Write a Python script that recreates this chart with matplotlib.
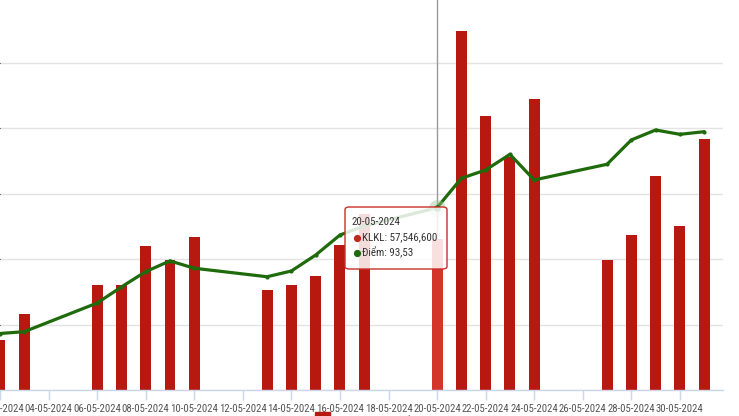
import matplotlib
matplotlib.use("Agg")
import matplotlib.pyplot as plt
from matplotlib import font_manager as fm
from matplotlib.patches import FancyBboxPatch, Rectangle
from matplotlib.lines import Line2D
from matplotlib.textpath import TextPath
import numpy as np

# ---------------- data ----------------
days = [2, 3, 6, 7, 8, 9, 10, 13, 14, 15, 16, 17, 20, 21, 22, 23, 24, 27, 28, 29, 30, 31]
klkl = [19.11e6, 29.05e6, 40.14e6, 40.30e6, 55.05e6, 49.69e6, 58.49e6, 38.23e6, 40.14e6,
        43.58e6, 55.43e6, 67.28e6, 57.5466e6, 137.23e6, 104.74e6, 89.07e6, 111.24e6,
        49.69e6, 59.25e6, 81.80e6, 62.69e6, 95.95e6]
diem = [83.91, 84.05, 86.24, 87.47, 88.64, 89.46, 88.90, 88.25, 88.69, 89.91, 91.44, 92.13,
        93.53, 95.78, 96.41, 97.61, 95.65, 96.85, 98.71, 99.47, 99.14, 99.34]
tick_days = [2, 4, 6, 8, 10, 12, 14, 16, 18, 20, 22, 24, 26, 28, 30]
tick_labels = ["%02d-05-2024" % d for d in tick_days]
hover_day = 20
tooltip_date = "20-05-2024"
tooltip_klkl = "KLKL: 57,546,600"
tooltip_diem = "Điểm: 93,53"
series_names = ["KLKL", "Điểm"]

# ---------------- font choice ----------------
names = {f.name for f in fm.fontManager.ttflist}
if 'Liberation Sans Narrow' in names:
    FP = fm.FontProperties(family='Liberation Sans Narrow')
elif 'Roboto Condensed' in names:
    FP = fm.FontProperties(family='Roboto Condensed')
elif 'DejaVu Sans Condensed' in names:
    FP = fm.FontProperties(family='DejaVu Sans Condensed')
else:
    FP = fm.FontProperties(family='Liberation Sans')

def size_for(text, target_px):
    tp = TextPath((0, 0), text, size=10, prop=FP)
    w_px = tp.get_extents().width * 100 / 72
    return 10 * target_px / w_px

TICK_FS = size_for("04-05-2024", 47)
TIP_FS = size_for("KLKL: 57,546,600", 74)

# ---------------- style ----------------
W, H = 739, 416
BAR = '#b71910'
BAR_HI = '#d4352a'
LINE = '#1f6b0c'
GRID = '#e3e3e3'
AXIS = '#ccd6eb'
TXT = '#555555'

fig = plt.figure(figsize=(W / 100, H / 100), dpi=100)

def fx(x):
    return x / W

def fy(y):
    return 1 - y / H

ax = fig.add_axes([fx(0), fy(390), fx(723), 390 / H])
ax.set_xlim(2.113, 31.775)
ax.set_ylim(0, 149.1e6)

ax.set_yticks([0, 25e6, 50e6, 75e6, 100e6, 125e6])
ax.yaxis.grid(True, color=GRID, linewidth=1)
ax.tick_params(axis='y', left=False, labelleft=False)
for s in ['left', 'right', 'top']:
    ax.spines[s].set_visible(False)
ax.spines['bottom'].set_color(AXIS)
ax.spines['bottom'].set_linewidth(1)
ax.set_axisbelow(True)

ax.set_xticks(tick_days)
ax.set_xticklabels(tick_labels, fontproperties=FP, fontsize=TICK_FS, color=TXT)
ax.tick_params(axis='x', length=7, width=1, color=AXIS, pad=3)

ax.axvline(hover_day, color='#9a9a9a', linewidth=1, zorder=1)

colors = [BAR_HI if d == hover_day else BAR for d in days]
ax.bar(days, klkl, width=0.45, color=colors, zorder=2)

ax2 = ax.twinx()
ax2.set_ylim(79.59, 109.41)
for s in ['left', 'right', 'top', 'bottom']:
    ax2.spines[s].set_visible(False)
rticks = [79.59 + 5 * k for k in range(6)]
ax2.set_yticks(rticks)
ax2.set_yticklabels(["%d" % round(v) for v in rticks], color='#f0a030',
                    fontproperties=FP, fontsize=TICK_FS)
ax2.tick_params(axis='y', length=0, pad=12.5)
ax2.plot(days, diem, color=LINE, linewidth=2.3, solid_joinstyle='round',
         solid_capstyle='round', zorder=3)
ax2.scatter(days, diem, s=4, color=LINE, zorder=4)
hi = days.index(hover_day)
ax2.scatter([days[hi]], [diem[hi]], s=150, color='#9fc79a', alpha=0.45, zorder=3, linewidths=0)
ax2.scatter([days[hi]], [diem[hi]], s=14, color=LINE, zorder=5)

# tooltip
box = dict(boxstyle="round,pad=0,rounding_size=0.006", transform=fig.transFigure)
tb = FancyBboxPatch((fx(345), fy(269)), fx(102), (269 - 207) / H,
                    facecolor='white', alpha=0.85, edgecolor='none', zorder=10, **box)
fig.patches.append(tb)
tbe = FancyBboxPatch((fx(345), fy(269)), fx(102), (269 - 207) / H,
                     facecolor='none', edgecolor='#c8302a', linewidth=1, zorder=11, **box)
fig.patches.append(tbe)
fig.text(fx(352), fy(221.5), tooltip_date, fontproperties=FP, fontsize=TIP_FS, color='#333333',
         va='center', ha='left', zorder=12)
fig.add_artist(Line2D([fx(357)], [fy(238)], marker='o', markersize=4.2, color='#c0281e',
                      linestyle='none', transform=fig.transFigure, zorder=12))
fig.text(fx(362.5), fy(237.5), tooltip_klkl, fontproperties=FP, fontsize=TIP_FS,
         color='#333333', va='center', ha='left', zorder=12)
fig.add_artist(Line2D([fx(357)], [fy(253)], marker='o', markersize=4.2, color=LINE,
                      linestyle='none', transform=fig.transFigure, zorder=12))
fig.text(fx(362.5), fy(252.5), tooltip_diem, fontproperties=FP, fontsize=TIP_FS,
         color='#333333', va='center', ha='left', zorder=12)

# legend (mostly cropped)
fig.patches.append(Rectangle((fx(315), fy(424)), fx(15), 12 / H,
                             transform=fig.transFigure, color=BAR, zorder=5))
fig.text(fx(338), fy(425), series_names[0], fontproperties=FP, fontsize=TIP_FS,
         color='#333333', va='baseline', ha='left')
fig.add_artist(Line2D([fx(375), fx(392)], [fy(421), fy(421)], color=LINE, linewidth=2.3,
                      transform=fig.transFigure))
fig.text(fx(397), fy(425), series_names[1], fontproperties=FP, fontsize=TIP_FS,
         color='#333333', va='baseline', ha='left')

fig.savefig("out.png", dpi=100)
